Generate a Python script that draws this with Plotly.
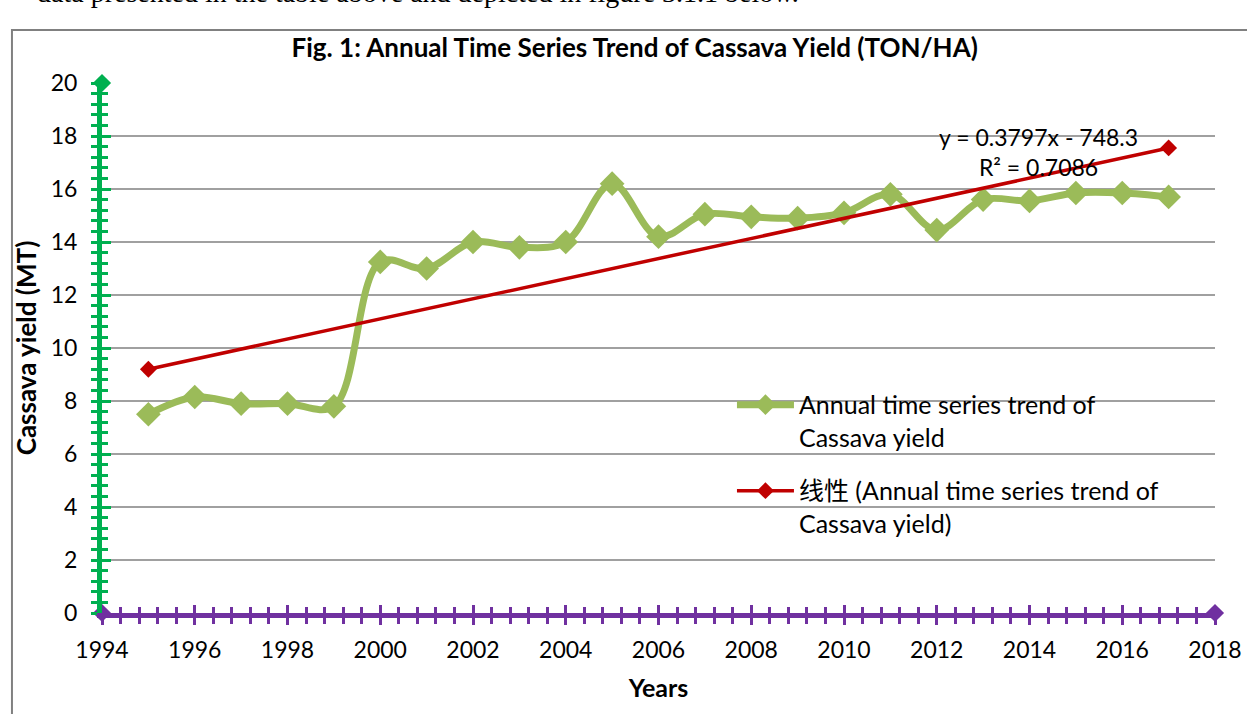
import plotly.graph_objects as go

# ---------------- data ----------------
years = [1995, 1996, 1997, 1998, 1999, 2000, 2001, 2002, 2003, 2004, 2005, 2006,
         2007, 2008, 2009, 2010, 2011, 2012, 2013, 2014, 2015, 2016, 2017]
cassava_yield = [7.5, 8.15, 7.9, 7.9, 7.8, 13.25, 13.0, 14.0, 13.8, 14.0, 16.2, 14.2,
                 15.05, 14.95, 14.9, 15.1, 15.8, 14.45, 15.6, 15.55, 15.85, 15.85, 15.7]
trend_years = [1995, 2017]
trend_values = [9.2, 17.55]
x_range = [1994, 2018]
y_range = [0, 20]
x_tick_vals = [1994, 1996, 1998, 2000, 2002, 2004, 2006, 2008, 2010, 2012, 2014, 2016, 2018]
y_tick_vals = [0, 2, 4, 6, 8, 10, 12, 14, 16, 18, 20]

series_name = "Annual time series trend of<br>Cassava yield"
trend_name = "线性 (Annual time series trend of<br>Cassava yield)"
equation_text = "y = 0.3797x - 748.3<br>R² = 0.7086"

FONT = "Lato, 'Noto Sans CJK SC', sans-serif"
GREEN_LINE = "#9BBB59"
RED = "#C00000"
AX_GREEN = "#00B050"
AX_PURPLE = "#7030A0"

fig = go.Figure()

fig.add_trace(go.Scatter(
    x=years, y=cassava_yield, name=series_name, mode="lines+markers",
    line=dict(color=GREEN_LINE, width=7, shape="spline", smoothing=1.0),
    marker=dict(symbol="diamond", size=19, color=GREEN_LINE),
    legendgroup="a"))

fig.add_trace(go.Scatter(
    x=trend_years, y=trend_values, name=trend_name, mode="lines+markers",
    line=dict(color=RED, width=3.5),
    marker=dict(symbol="diamond", size=13, color=RED),
    legendgroup="b"))

# axis end decorations (diamonds at axis ends)
fig.add_trace(go.Scatter(
    x=[x_range[0]], y=[y_range[1]], mode="markers", showlegend=False, cliponaxis=False,
    marker=dict(symbol="diamond", size=14, color=AX_GREEN), hoverinfo="skip"))
fig.add_trace(go.Scatter(
    x=[x_range[0], x_range[1]], y=[y_range[0], y_range[0]], mode="markers",
    showlegend=False, cliponaxis=False,
    marker=dict(symbol="diamond", size=14, color=AX_PURPLE), hoverinfo="skip"))

fig.add_annotation(
    x=2014.2, y=17.4, xref="x", yref="y", text=equation_text, showarrow=False,
    font=dict(family=FONT, size=23, color="#000"), align="center")

# clipped paragraph text above the chart
fig.add_annotation(
    x=-0.0602, y=1.17, xref="paper", yref="paper", xanchor="left", yanchor="middle",
    text="data presented in the table above and depicted in figure 3.1.1 below.",
    showarrow=False, font=dict(family="Liberation Serif, Times New Roman, serif", size=28, color="#000"))

# chart frame
fig.add_shape(type="rect", xref="paper", yref="paper",
              x0=-0.0809, x1=1.04, y0=-0.22, y1=1.1,
              line=dict(color="#808080", width=2), fillcolor="rgba(0,0,0,0)", layer="below")

tickfont = dict(family=FONT, size=23, color="#000")

fig.update_layout(
    width=1247, height=714,
    margin=dict(l=102, r=32, t=83, b=101),
    paper_bgcolor="white", plot_bgcolor="white",
    font=dict(family=FONT, color="#000"),
    title=dict(text="<b>Fig. 1: Annual Time Series Trend of Cassava Yield (TON/HA)</b>",
               x=0.509, xref="container", y=1 - 48 / 714, yref="container",
               xanchor="center", yanchor="middle",
               font=dict(family=FONT, size=26, color="#000")),
    xaxis=dict(range=x_range, tickvals=x_tick_vals, showgrid=False, zeroline=False,
               showline=True, linecolor=AX_PURPLE, linewidth=5, automargin=False,
               ticks="outside", ticklen=7, tickwidth=3, tickcolor=AX_PURPLE,
               minor=dict(dtick=0.4, tick0=1994, ticks="outside", ticklen=6, tickwidth=3,
                          tickcolor=AX_PURPLE, showgrid=False),
               tickfont=tickfont, ticklabelstandoff=5,
               title=dict(text="<b>Years</b>", font=dict(family=FONT, size=25, color="#000"),
                          standoff=19)),
    xaxis2=dict(range=x_range, overlaying="x", anchor="y", side="bottom",
                tickvals=x_tick_vals, showticklabels=False, showgrid=False, zeroline=False,
                ticks="inside", ticklen=8, tickwidth=3, tickcolor=AX_PURPLE,
                minor=dict(dtick=0.4, tick0=1994, ticks="inside", ticklen=6, tickwidth=3,
                           tickcolor=AX_PURPLE, showgrid=False)),
    yaxis=dict(range=y_range, tickvals=y_tick_vals, showgrid=True, gridcolor="#A0A0A0",
               gridwidth=2, zeroline=False, automargin=False,
               showline=True, linecolor=AX_GREEN, linewidth=5,
               ticks="outside", ticklen=6, tickwidth=3, tickcolor=AX_GREEN,
               minor=dict(dtick=0.4, tick0=0, ticks="outside", ticklen=6, tickwidth=3,
                          tickcolor=AX_GREEN, showgrid=False),
               tickfont=tickfont, ticklabelstandoff=9,
               title=dict(text="<b>Cassava yield (MT)</b>",
                          font=dict(family=FONT, size=26, color="#000"), standoff=8)),
    yaxis2=dict(range=y_range, overlaying="y", anchor="x", side="left",
                tickvals=y_tick_vals, showticklabels=False, showgrid=False, zeroline=False,
                ticks="inside", ticklen=9, tickwidth=3, tickcolor=AX_GREEN,
                minor=dict(dtick=0.4, tick0=0, ticks="inside", ticklen=6, tickwidth=3,
                           tickcolor=AX_GREEN, showgrid=False)),
    legend=dict(x=0.566, y=0.436, xanchor="left", yanchor="top", valign="top",
                bgcolor="rgba(0,0,0,0)", font=dict(family=FONT, size=25, color="#000"),
                itemwidth=57, tracegroupgap=18, traceorder="grouped"),
    showlegend=True,
)

# bind the overlay axes with an invisible trace so their ticks draw
fig.add_trace(go.Scatter(x=[x_range[0]], y=[y_range[0]], xaxis="x2", yaxis="y2",
                         mode="markers", marker=dict(opacity=0), showlegend=False,
                         hoverinfo="skip"))

fig.write_html("out.html", config={"displayModeBar": False},
               post_script="document.body.style.margin='0';")
